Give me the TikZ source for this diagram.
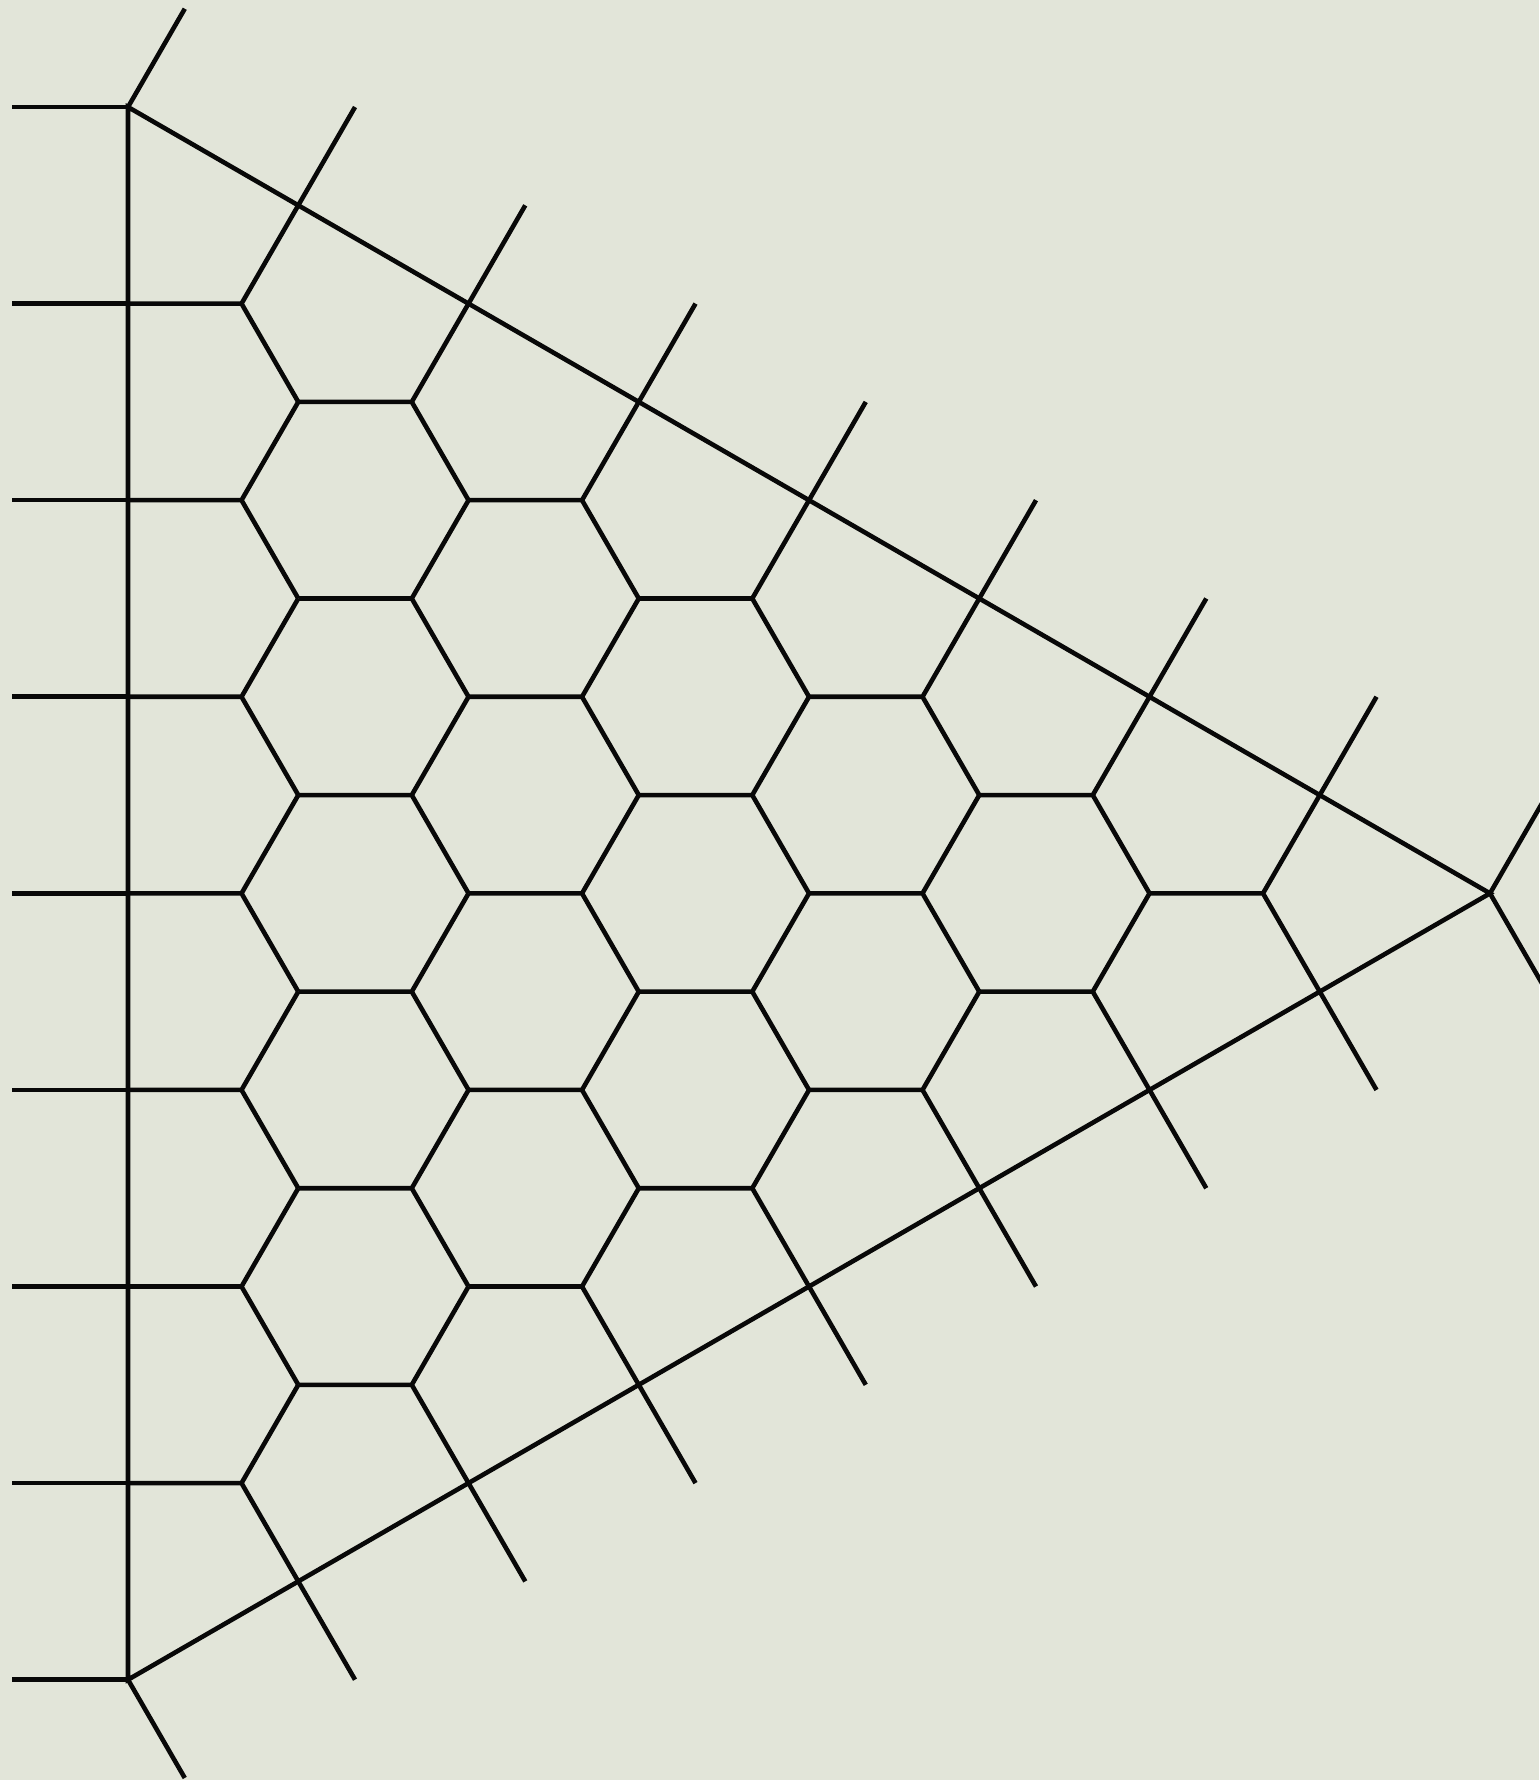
\documentclass[tikz,border=0pt]{standalone}
\usepackage{tikz}
\definecolor{paperclr}{RGB}{226,229,217}
\definecolor{inkclr}{RGB}{8,8,8}
\tikzset{
  cell/.style={draw=inkclr,line width=1.15pt},
  rim/.style={cell},
  leg/.style={cell},
}
\begin{document}
\begin{tikzpicture}[x=1cm, y=-0.8660cm]
\useasboundingbox (-1.128cm,0.943cm) rectangle (12.432cm,-14.74cm);
\fill[paperclr] (-1.128cm,0.943cm) rectangle (12.432cm,-14.74cm);

\coordinate (top) at (0,0);
\coordinate (tip) at (12,8);
\coordinate (bot) at (0,16);
\draw[rim] (top) -- (tip) -- (bot) -- cycle;

% honeycomb: every inner vertex sends a leg left, up-right and down-right
\foreach \c in {0,...,6} {
  \pgfmathtruncatemacro\n{6-\c}
  \pgfmathsetmacro\xa{1+1.5*\c}
  \foreach \r in {0,...,\n} {
    \pgfmathtruncatemacro\la{2+\c+2*\r}
    \coordinate (v) at (\xa,\la);
    \draw[cell] (v) ++(0.5,-1) -- (v) -- ++(0.5,1) (v) -- ++(-1,0);
  }
}

% legs sticking out of the triangle
\foreach \k in {0,...,8} {
  \draw[leg] (1.5*\k,\k) -- ++(0.5,-1);
  \draw[leg] (1.5*\k,16-\k) -- ++(0.5,1);
}
\foreach \l in {0,2,...,16}
  \draw[leg] (0,\l) -- ++(-1.02,0);
\end{tikzpicture}
\end{document}
